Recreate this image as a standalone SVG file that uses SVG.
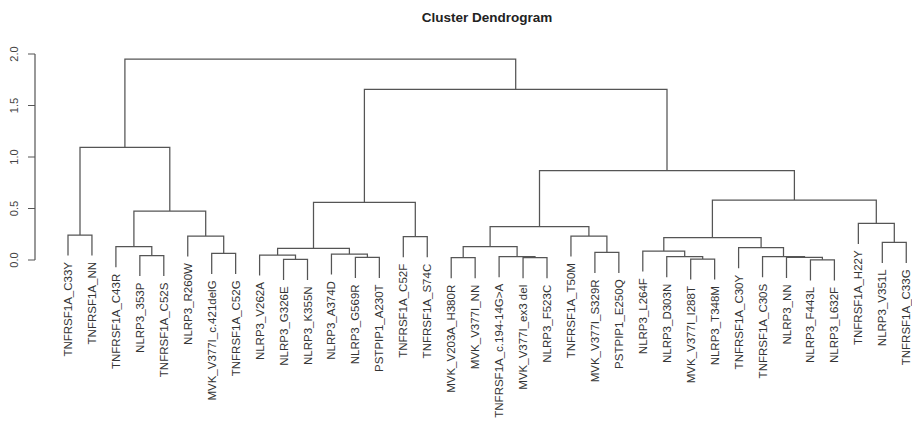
<svg xmlns="http://www.w3.org/2000/svg" width="912" height="422" viewBox="0 0 912 422">
  <style>
    .title { font-family: "Liberation Sans", Arial, sans-serif; font-size: 13.5px; font-weight: bold; fill: #222; }
    .axis { stroke: #555; stroke-width: 1.2; fill: none; }
    .tick { font-family: "Liberation Sans", Arial, sans-serif; font-size: 11px; fill: #444; }
    .branch { stroke: #555; stroke-width: 1.25; fill: none; }
    .leaf text { font-family: "Liberation Sans", Arial, sans-serif; font-size: 11.5px; fill: #333; text-anchor: end; }
  </style>
  <rect width="912" height="422" fill="#fff"/>

  <text class="title" x="487" y="22" text-anchor="middle">Cluster Dendrogram</text>

  <!-- height axis: 103 px per unit, 0.0 at y=260 -->
  <g id="y-axis">
    <path class="axis" d="M35 54V260M28 54H35M28 105.5H35M28 157H35M28 208.5H35M28 260H35"/>
    <text class="tick" text-anchor="middle" transform="translate(18 260) rotate(-90)">0.0</text>
    <text class="tick" text-anchor="middle" transform="translate(18 208.5) rotate(-90)">0.5</text>
    <text class="tick" text-anchor="middle" transform="translate(18 157) rotate(-90)">1.0</text>
    <text class="tick" text-anchor="middle" transform="translate(18 105.5) rotate(-90)">1.5</text>
    <text class="tick" text-anchor="middle" transform="translate(18 54) rotate(-90)">2.0</text>
  </g>

  <!-- merges: child x/top, merge height, other child x/top -->
  <g id="connectors" class="branch">
    <path d="M68 255.6V235H91.95V255.6"/>
    <path d="M139.85 276.1V255.5H163.8V276.1"/>
    <path d="M115.9 267.3V246.7H151.8V255.5"/>
    <path d="M211.7 273.9V253.3H235.65V273.9"/>
    <path d="M187.75 256.6V236H223.7V253.3"/>
    <path d="M133.9 246.7V211H205.7V236"/>
    <path d="M80 235V147.3H169.8V211"/>
    <path d="M283.55 279.9V259.3H307.5V279.9"/>
    <path d="M259.6 275.6V255H295.5V259.3"/>
    <path d="M355.4 277.9V257.3H379.35V277.9"/>
    <path d="M331.45 274.6V254H367.4V257.3"/>
    <path d="M277.6 255V248.3H349.4V254"/>
    <path d="M403.3 257.3V236.7H427.25V257.3"/>
    <path d="M313.5 248.3V202.3H415.3V236.7"/>
    <path d="M451.2 278.3V257.7H475.15V278.3"/>
    <path d="M523.05 278.3V257.7H547V278.3"/>
    <path d="M499.1 277.3V256.7H535V257.7"/>
    <path d="M463.2 257.7V246.7H517.1V256.7"/>
    <path d="M594.9 272.9V252.3H618.85V272.9"/>
    <path d="M570.95 256.6V236H606.9V252.3"/>
    <path d="M490.1 246.7V226.7H588.9V236"/>
    <path d="M690.7 279.6V259H714.65V279.6"/>
    <path d="M666.75 277.3V256.7H702.7V259"/>
    <path d="M642.8 271.6V251H684.7V256.7"/>
    <path d="M810.45 280.4V259.8H834.4V280.4"/>
    <path d="M786.5 277.9V257.3H822.4V259.8"/>
    <path d="M762.55 277.3V256.7H804.5V257.3"/>
    <path d="M738.6 268.3V247.7H783.5V256.7"/>
    <path d="M663.8 251V237.7H761.1V247.7"/>
    <path d="M882.3 262.9V242.3H906.25V262.9"/>
    <path d="M858.35 243.9V223.3H894.3V242.3"/>
    <path d="M712.4 237.7V200H876.3V223.3"/>
    <path d="M539.5 226.7V170.7H794.4V200"/>
    <path d="M364.4 202.3V89.3H667V170.7"/>
    <path d="M124.9 147.3V59H515.7V89.3"/>
  </g>

  <!-- leaf labels, read bottom to top, ending just under each leaf -->
  <g class="leaf" id="leaf-01"><text transform="translate(72 262) rotate(-90)">TNFRSF1A_C33Y</text></g>
  <g class="leaf" id="leaf-02"><text transform="translate(95.95 262) rotate(-90)">TNFRSF1A_NN</text></g>
  <g class="leaf" id="leaf-03"><text transform="translate(119.9 273.8) rotate(-90)">TNFRSF1A_C43R</text></g>
  <g class="leaf" id="leaf-04"><text transform="translate(143.85 282.6) rotate(-90)">NLRP3_353P</text></g>
  <g class="leaf" id="leaf-05"><text transform="translate(167.8 282.6) rotate(-90)">TNFRSF1A_C52S</text></g>
  <g class="leaf" id="leaf-06"><text transform="translate(191.75 263.1) rotate(-90)">NLRP3_R260W</text></g>
  <g class="leaf" id="leaf-07"><text transform="translate(215.7 280.4) rotate(-90)">MVK_V377I_c.421delG</text></g>
  <g class="leaf" id="leaf-08"><text transform="translate(239.65 280.4) rotate(-90)">TNFRSF1A_C52G</text></g>
  <g class="leaf" id="leaf-09"><text transform="translate(263.6 282.1) rotate(-90)">NLRP3_V262A</text></g>
  <g class="leaf" id="leaf-10"><text transform="translate(287.55 286.4) rotate(-90)">NLRP3_G326E</text></g>
  <g class="leaf" id="leaf-11"><text transform="translate(311.5 286.4) rotate(-90)">NLRP3_K355N</text></g>
  <g class="leaf" id="leaf-12"><text transform="translate(335.45 281.1) rotate(-90)">NLRP3_A374D</text></g>
  <g class="leaf" id="leaf-13"><text transform="translate(359.4 284.4) rotate(-90)">NLRP3_G569R</text></g>
  <g class="leaf" id="leaf-14"><text transform="translate(383.35 284.4) rotate(-90)">PSTPIP1_A230T</text></g>
  <g class="leaf" id="leaf-15"><text transform="translate(407.3 263.8) rotate(-90)">TNFRSF1A_C52F</text></g>
  <g class="leaf" id="leaf-16"><text transform="translate(431.25 263.8) rotate(-90)">TNFRSF1A_S74C</text></g>
  <g class="leaf" id="leaf-17"><text transform="translate(455.2 284.8) rotate(-90)">MVK_V203A_H380R</text></g>
  <g class="leaf" id="leaf-18"><text transform="translate(479.15 284.8) rotate(-90)">MVK_V377I_NN</text></g>
  <g class="leaf" id="leaf-19"><text transform="translate(503.1 283.8) rotate(-90)">TNFRSF1A_c.194-14G&gt;A</text></g>
  <g class="leaf" id="leaf-20"><text transform="translate(527.05 284.8) rotate(-90)">MVK_V377I_ex3 del</text></g>
  <g class="leaf" id="leaf-21"><text transform="translate(551 284.8) rotate(-90)">NLRP3_F523C</text></g>
  <g class="leaf" id="leaf-22"><text transform="translate(574.95 263.1) rotate(-90)">TNFRSF1A_T50M</text></g>
  <g class="leaf" id="leaf-23"><text transform="translate(598.9 279.4) rotate(-90)">MVK_V377I_S329R</text></g>
  <g class="leaf" id="leaf-24"><text transform="translate(622.85 279.4) rotate(-90)">PSTPIP1_E250Q</text></g>
  <g class="leaf" id="leaf-25"><text transform="translate(646.8 278.1) rotate(-90)">NLRP3_L264F</text></g>
  <g class="leaf" id="leaf-26"><text transform="translate(670.75 283.8) rotate(-90)">NLRP3_D303N</text></g>
  <g class="leaf" id="leaf-27"><text transform="translate(694.7 286.1) rotate(-90)">MVK_V377I_I288T</text></g>
  <g class="leaf" id="leaf-28"><text transform="translate(718.65 286.1) rotate(-90)">NLRP3_T348M</text></g>
  <g class="leaf" id="leaf-29"><text transform="translate(742.6 274.8) rotate(-90)">TNFRSF1A_C30Y</text></g>
  <g class="leaf" id="leaf-30"><text transform="translate(766.55 283.8) rotate(-90)">TNFRSF1A_C30S</text></g>
  <g class="leaf" id="leaf-31"><text transform="translate(790.5 284.4) rotate(-90)">NLRP3_NN</text></g>
  <g class="leaf" id="leaf-32"><text transform="translate(814.45 286.9) rotate(-90)">NLRP3_F443L</text></g>
  <g class="leaf" id="leaf-33"><text transform="translate(838.4 286.9) rotate(-90)">NLRP3_L632F</text></g>
  <g class="leaf" id="leaf-34"><text transform="translate(862.35 250.4) rotate(-90)">TNFRSF1A_H22Y</text></g>
  <g class="leaf" id="leaf-35"><text transform="translate(886.3 269.4) rotate(-90)">NLRP3_V351L</text></g>
  <g class="leaf" id="leaf-36"><text transform="translate(910.25 269.4) rotate(-90)">TNFRSF1A_C33G</text></g>
</svg>
